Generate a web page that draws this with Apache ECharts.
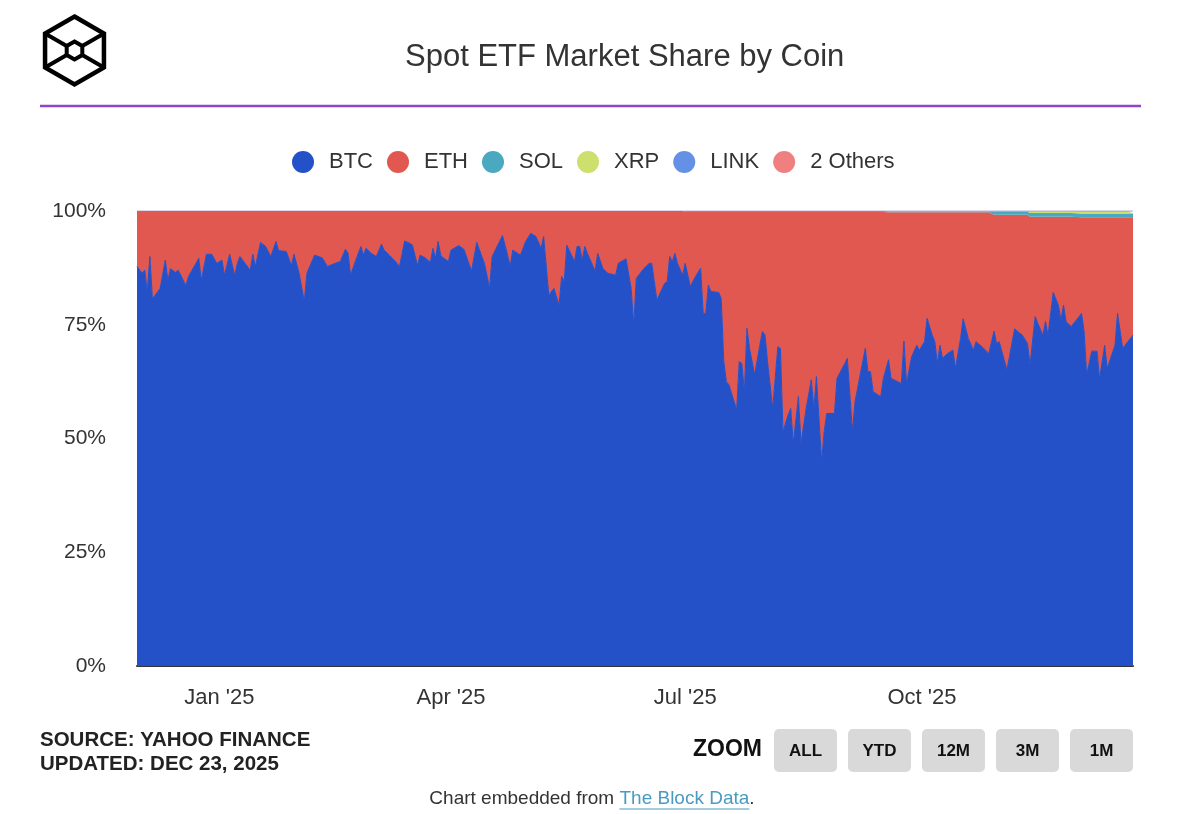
<!DOCTYPE html>
<html>
<head>
<meta charset="utf-8">
<script src="https://cdn.jsdelivr.net/npm/echarts@6/dist/echarts.min.js"></script>
<style>
html,body{margin:0;padding:0;background:#ffffff;}
#chart{width:1204px;height:814px;}
</style>
</head>
<body>
<div id="chart"></div>
<script>
// ---------------- DATA ----------------
const seriesNames = ["BTC", "ETH", "SOL", "XRP", "LINK", "2 Others"];

const dates = [
  '2024-11-30',
  '2024-12-02','2024-12-03','2024-12-04','2024-12-05','2024-12-06','2024-12-09','2024-12-11','2024-12-12','2024-12-13','2024-12-15','2024-12-16','2024-12-19','2024-12-20','2024-12-24','2024-12-25','2024-12-27','2024-12-29','2024-12-31',
  '2025-01-02','2025-01-03','2025-01-05','2025-01-07','2025-01-08','2025-01-09','2025-01-11','2025-01-13','2025-01-14','2025-01-15','2025-01-17','2025-01-19','2025-01-21','2025-01-23','2025-01-24','2025-01-27','2025-01-29','2025-01-30',
  '2025-02-01','2025-02-03','2025-02-04','2025-02-07','2025-02-10','2025-02-12','2025-02-15','2025-02-17','2025-02-19','2025-02-20','2025-02-21','2025-02-23','2025-02-25','2025-02-26','2025-02-27',
  '2025-03-01','2025-03-03','2025-03-05','2025-03-06','2025-03-08','2025-03-10','2025-03-12','2025-03-14','2025-03-16','2025-03-17','2025-03-19','2025-03-20','2025-03-22','2025-03-24','2025-03-25','2025-03-26','2025-03-27','2025-03-28','2025-03-29','2025-03-31',
  '2025-04-01','2025-04-04','2025-04-06','2025-04-09','2025-04-11','2025-04-13','2025-04-14','2025-04-16','2025-04-17','2025-04-21','2025-04-23','2025-04-24','2025-04-25','2025-04-28','2025-04-30',
  '2025-05-02','2025-05-04','2025-05-06','2025-05-07','2025-05-09','2025-05-11','2025-05-13','2025-05-14','2025-05-15','2025-05-16','2025-05-19','2025-05-20','2025-05-21','2025-05-22','2025-05-23','2025-05-24','2025-05-27','2025-05-28','2025-05-30',
  '2025-06-01','2025-06-04','2025-06-05','2025-06-08','2025-06-10','2025-06-11','2025-06-12','2025-06-15','2025-06-17','2025-06-18','2025-06-20','2025-06-23','2025-06-24','2025-06-25','2025-06-26','2025-06-27','2025-06-28','2025-06-30',
  '2025-07-01','2025-07-03','2025-07-05','2025-07-07','2025-07-08','2025-07-09','2025-07-10','2025-07-11','2025-07-14','2025-07-15','2025-07-16','2025-07-17','2025-07-18','2025-07-21','2025-07-22','2025-07-23','2025-07-24','2025-07-25','2025-07-26','2025-07-28','2025-07-30','2025-07-31',
  '2025-08-01','2025-08-02','2025-08-04','2025-08-06','2025-08-07','2025-08-08','2025-08-10','2025-08-11','2025-08-12','2025-08-14','2025-08-15','2025-08-17','2025-08-19','2025-08-20','2025-08-21','2025-08-23','2025-08-24','2025-08-25','2025-08-28','2025-08-29',
  '2025-09-02','2025-09-04','2025-09-05','2025-09-07','2025-09-09','2025-09-10','2025-09-11','2025-09-12','2025-09-15','2025-09-16','2025-09-18','2025-09-19','2025-09-23','2025-09-24','2025-09-25','2025-09-27','2025-09-29','2025-09-30',
  '2025-10-02','2025-10-03','2025-10-05','2025-10-06','2025-10-07','2025-10-08','2025-10-09','2025-10-11','2025-10-13','2025-10-14','2025-10-16','2025-10-17','2025-10-19','2025-10-21','2025-10-22','2025-10-25','2025-10-27','2025-10-29','2025-10-30','2025-10-31',
  '2025-11-03','2025-11-04','2025-11-06','2025-11-09','2025-11-11','2025-11-12','2025-11-14','2025-11-15','2025-11-17','2025-11-18','2025-11-19','2025-11-21','2025-11-23','2025-11-24','2025-11-25','2025-11-26','2025-11-28',
  '2025-12-02','2025-12-03','2025-12-04','2025-12-06','2025-12-08','2025-12-09','2025-12-11','2025-12-12','2025-12-15','2025-12-16','2025-12-18','2025-12-20','2025-12-22'
];

const btc = [
  87.8,
  86.3,87.0,82.3,90.0,80.7,83.0,89.2,84.8,87.3,86.5,87.0,83.6,85.6,89.6,84.8,90.5,90.5,88.5,
  89.2,85.9,90.5,85.8,88.5,90.0,88.5,87.0,90.5,87.8,93.1,92.2,90.0,93.3,91.3,91.1,88.0,90.5,
  86.3,80.1,86.3,90.3,89.7,87.8,88.5,88.9,91.6,90.7,85.9,89.2,92.2,90.3,91.8,
  90.7,90.0,92.7,91.4,90.3,89.2,87.8,93.4,92.9,92.5,88.0,90.3,89.7,88.7,91.8,89.6,93.3,90.3,89.7,88.9,
  91.4,92.4,91.6,86.8,93.1,90.0,88.5,83.0,90.0,94.6,90.3,87.8,91.4,90.3,93.3,
  95.1,94.4,91.8,94.4,81.5,83.0,79.3,85.6,84.5,92.5,88.9,92.2,92.2,89.2,92.2,90.7,86.8,90.7,87.4,
  86.3,85.9,88.5,89.5,83.0,74.9,85.2,87.4,88.5,88.5,80.4,84.1,84.5,90.0,88.9,90.7,88.5,85.9,
  88.5,83.4,85.6,87.4,77.5,77.5,83.7,82.3,82.1,80.8,66.9,62.5,61.8,56.3,66.9,66.5,60.3,74.2,69.8,64.0,70.5,73.5,
  72.8,66.9,56.6,70.2,69.8,51.5,55.2,56.6,48.9,59.2,48.9,56.6,62.9,56.6,63.6,44.9,51.5,55.5,55.5,63.2,
  67.6,51.5,58.1,64.0,69.8,64.7,64.7,60.3,59.2,63.2,67.3,63.2,62.1,71.4,62.1,68.0,70.5,69.4,
  71.3,76.4,72.7,71.3,66.5,70.5,67.6,68.7,69.4,65.4,72.0,76.3,72.0,69.4,71.3,69.8,68.7,73.6,70.9,71.3,
  65.1,68.0,74.1,72.7,70.9,66.2,76.8,75.3,72.7,75.7,72.7,82.1,79.3,76.0,79.3,75.7,74.6,
  77.5,73.5,64.0,69.2,69.2,63.1,70.5,65.4,70.5,77.5,69.8,71.3,72.7
];

const eth = [
  12.2,
  13.7,13.0,17.7,10.0,19.3,17.0,10.8,15.2,12.7,13.5,13.0,16.4,14.4,10.4,15.2,9.5,9.5,11.5,
  10.8,14.1,9.5,14.2,11.5,10.0,11.5,13.0,9.5,12.2,6.9,7.8,10.0,6.7,8.7,8.9,12.0,9.5,
  13.7,19.9,13.7,9.7,10.3,12.2,11.5,11.1,8.4,9.3,14.1,10.8,7.8,9.7,8.2,
  9.3,10.0,7.3,8.6,9.7,10.8,12.2,6.6,7.1,7.5,12.0,9.7,10.3,11.3,8.2,10.4,6.7,9.7,10.3,11.1,
  8.6,7.6,8.4,13.2,6.9,10.0,11.5,17.0,10.0,5.4,9.7,12.2,8.6,9.7,6.7,
  4.9,5.6,8.2,5.6,18.5,17.0,20.7,14.4,15.5,7.5,11.1,7.8,7.8,10.8,7.8,9.3,13.2,9.3,12.6,
  13.7,14.1,11.5,10.5,17.0,25.1,14.8,12.6,11.5,11.5,19.6,15.9,15.5,10.0,11.1,9.3,11.5,14.1,
  11.3,16.4,14.2,12.4,22.3,22.3,16.1,17.5,17.7,19.0,32.9,37.3,38.0,43.5,32.9,33.3,39.5,25.6,30.0,35.8,29.3,26.3,
  27.0,32.9,43.2,29.6,30.0,48.3,44.6,43.2,50.9,40.6,50.9,43.2,36.9,43.2,36.2,54.9,48.3,44.3,44.3,36.6,
  32.2,48.3,41.7,35.8,30.0,35.1,35.1,39.5,40.6,36.6,32.4,36.5,37.6,28.3,37.6,31.7,29.2,30.3,
  28.4,23.3,27.0,28.4,33.2,29.2,32.1,31.0,30.3,34.3,27.7,23.4,27.7,30.3,28.4,29.9,31.0,25.6,28.3,27.9,
  34.1,31.2,25.1,26.5,28.3,32.55,21.95,23.45,26.05,23.05,26.05,16.65,19.45,22.75,19.45,23.05,24.15,
  21.15,25.15,34.65,29.45,29.45,35.55,28.15,33.25,28.15,21.15,28.85,27.35,25.95
];

const sol = [
  0,
  0,0,0,0,0, 0,0,0,0,0, 0,0,0,0,0, 0,0,0,
  0,0,0,0,0, 0,0,0,0,0, 0,0,0,0,0, 0,0,0,
  0,0,0,0,0, 0,0,0,0,0, 0,0,0,0,0,
  0,0,0,0,0, 0,0,0,0,0, 0,0,0,0,0, 0,0,0,0,0,
  0,0,0,0,0, 0,0,0,0,0, 0,0,0,0,0,
  0,0,0,0,0, 0,0,0,0,0, 0,0,0,0,0, 0,0,0,0,
  0,0,0,0,0, 0,0,0,0,0, 0,0,0,0,0, 0,0,0,
  0.2,0.2,0.2,0.2,0.2, 0.2,0.2,0.2,0.2,0.2, 0.2,0.2,0.2,0.2,0.2, 0.2,0.2,0.2,0.2,0.2, 0.2,0.2,
  0.2,0.2,0.2,0.2,0.2, 0.2,0.2,0.2,0.2,0.2, 0.2,0.2,0.2,0.2,0.2, 0.2,0.2,0.2,0.2,0.2,
  0.2,0.2,0.2,0.2,0.2, 0.2,0.2,0.2,0.2,0.2, 0.2,0.2,0.2,0.2,0.2, 0.2,0.2,0.2,
  0.2,0.2,0.2,0.2,0.2, 0.2,0.2,0.2,0.2,0.2, 0.2,0.2,0.2,0.2,0.2, 0.2,0.2,0.7,0.7,0.7,
  0.7,0.7,0.7,0.7,0.7, 0.8,0.8,0.8,0.8,0.8, 0.8,0.8,0.8,0.8,0.8, 0.8,0.8,
  0.8,0.8,0.8,0.8,0.8, 0.8,0.8,0.8,0.8,0.8, 0.8,0.8,0.8
];

const xrp = [
  0,
  0,0,0,0,0, 0,0,0,0,0, 0,0,0,0,0, 0,0,0,
  0,0,0,0,0, 0,0,0,0,0, 0,0,0,0,0, 0,0,0,
  0,0,0,0,0, 0,0,0,0,0, 0,0,0,0,0,
  0,0,0,0,0, 0,0,0,0,0, 0,0,0,0,0, 0,0,0,0,0,
  0,0,0,0,0, 0,0,0,0,0, 0,0,0,0,0,
  0,0,0,0,0, 0,0,0,0,0, 0,0,0,0,0, 0,0,0,0,
  0,0,0,0,0, 0,0,0,0,0, 0,0,0,0,0, 0,0,0,
  0,0,0,0,0, 0,0,0,0,0, 0,0,0,0,0, 0,0,0,0,0, 0,0,
  0,0,0,0,0, 0,0,0,0,0, 0,0,0,0,0, 0,0,0,0,0,
  0,0,0,0,0, 0,0,0,0,0, 0,0,0,0,0, 0,0,0,
  0,0,0,0,0, 0,0,0,0,0, 0,0,0,0,0, 0,0,0,0,0,
  0,0,0,0,0, 0.35,0.35,0.35,0.35,0.35, 0.35,0.35,0.35,0.35,0.35, 0.35,0.35,
  0.4,0.4,0.4,0.4,0.4, 0.4,0.4,0.4,0.4,0.4, 0.4,0.4,0.4
];

const link = [
  0,
  0,0,0,0,0, 0,0,0,0,0, 0,0,0,0,0, 0,0,0,
  0,0,0,0,0, 0,0,0,0,0, 0,0,0,0,0, 0,0,0,
  0,0,0,0,0, 0,0,0,0,0, 0,0,0,0,0,
  0,0,0,0,0, 0,0,0,0,0, 0,0,0,0,0, 0,0,0,0,0,
  0,0,0,0,0, 0,0,0,0,0, 0,0,0,0,0,
  0,0,0,0,0, 0,0,0,0,0, 0,0,0,0,0, 0,0,0,0,
  0,0,0,0,0, 0,0,0,0,0, 0,0,0,0,0, 0,0,0,
  0,0,0,0,0, 0,0,0,0,0, 0,0,0,0,0, 0,0,0,0,0, 0,0,
  0,0,0,0,0, 0,0,0,0,0, 0,0,0,0,0, 0,0,0,0,0,
  0,0,0,0,0, 0,0,0,0,0, 0,0,0,0,0, 0,0,0,
  0,0,0,0,0, 0,0,0,0,0, 0,0,0,0,0, 0,0,0,0,0,
  0,0,0,0,0, 0,0,0,0,0, 0,0,0,0,0, 0,0,
  0.05,0.05,0.05,0.05,0.05, 0.05,0.05,0.05,0.05,0.05, 0.05,0.05,0.05
];

const others = [
  0,
  0,0,0,0,0, 0,0,0,0,0, 0,0,0,0,0, 0,0,0,
  0,0,0,0,0, 0,0,0,0,0, 0,0,0,0,0, 0,0,0,
  0,0,0,0,0, 0,0,0,0,0, 0,0,0,0,0,
  0,0,0,0,0, 0,0,0,0,0, 0,0,0,0,0, 0,0,0,0,0,
  0,0,0,0,0, 0,0,0,0,0, 0,0,0,0,0,
  0,0,0,0,0, 0,0,0,0,0, 0,0,0,0,0, 0,0,0,0,
  0,0,0,0,0, 0,0,0,0,0, 0,0,0,0,0, 0,0,0,
  0,0,0,0,0, 0,0,0,0,0, 0,0,0,0,0, 0,0,0,0,0, 0,0,
  0,0,0,0,0, 0,0,0,0,0, 0,0,0,0,0, 0,0,0,0,0,
  0,0,0,0,0, 0,0,0,0,0, 0.1,0.1,0.1,0.1,0.1, 0.1,0.1,0.1,
  0.1,0.1,0.1,0.1,0.1, 0.1,0.1,0.1,0.1,0.1, 0.1,0.1,0.1,0.1,0.1, 0.1,0.1,0.1,0.1,0.1,
  0.1,0.1,0.1,0.1,0.1, 0.1,0.1,0.1,0.1,0.1, 0.1,0.1,0.1,0.1,0.1, 0.1,0.1,
  0.1,0.1,0.1,0.1,0.1, 0.1,0.1,0.1,0.1,0.1, 0.1,0.1,0.1
];

const xTickDates = ['2025-01-01', '2025-04-01', '2025-07-01', '2025-10-01'];
const xTickLabels = ["Jan '25", "Apr '25", "Jul '25", "Oct '25"];
const yTickValues = [0, 25, 50, 75, 100];
const zoomButtons = ["ALL", "YTD", "12M", "3M", "1M"];

// ---------------- CHART ----------------
const FONT = '"Liberation Sans", Arial, Helvetica, sans-serif';
const colors = ['#2450c8', '#e0584f', '#4aa8c0', '#cddf6c', '#6491e6', '#f08080'];

function ts(d) {
  const p = d.split('-');
  return Date.UTC(+p[0], +p[1] - 1, +p[2]);
}
const tickTs = xTickDates.map(ts);
const valueArrays = [btc, eth, sol, xrp, link, others];
const xMin = ts(dates[0]);
const xMax = ts(dates[dates.length - 1]);

const chart = echarts.init(document.getElementById('chart'), null, { renderer: 'canvas' });

const series = valueArrays.map((arr, k) => ({
  name: seriesNames[k],
  type: 'line',
  stack: 'share',
  xAxisIndex: 0,
  symbol: 'none',
  showSymbol: false,
  smooth: false,
  color: colors[k],
  lineStyle: { width: k === 0 ? 1 : 0, color: colors[k] },
  areaStyle: { color: colors[k], opacity: 1 },
  emphasis: { disabled: true },
  z: k === 0 ? 3 : 2,
  data: dates.map((d, i) => [ts(d), arr[i]])
}));

// graphics: logo, divider, footer items
const graphics = [];
const cx = 74.5, cy = 50.5, R = 34, r = 9;
function hexPts(cx0, cy0, rad) {
  const pts = [];
  for (let k = 0; k < 6; k++) {
    const a = (-90 + 60 * k) * Math.PI / 180;
    pts.push([cx0 + rad * Math.cos(a), cy0 + rad * Math.sin(a)]);
  }
  return pts;
}
const outer = hexPts(cx, cy, R);
const inner = hexPts(cx, cy, r);
graphics.push({ type: 'polygon', shape: { points: outer }, style: { fill: 'none', stroke: '#000', lineWidth: 4.5, lineJoin: 'miter' } });
graphics.push({ type: 'polygon', shape: { points: inner }, style: { fill: 'none', stroke: '#000', lineWidth: 4, lineJoin: 'miter' } });
[1, 2, 4, 5].forEach(k => {
  graphics.push({ type: 'line', shape: { x1: outer[k][0], y1: outer[k][1], x2: inner[k][0], y2: inner[k][1] }, style: { stroke: '#000', lineWidth: 4 } });
});
graphics.push({ type: 'line', shape: { x1: 40, y1: 106, x2: 1141, y2: 106 }, style: { stroke: '#8e44c8', lineWidth: 2.5 } });
graphics.push({ type: 'text', style: { text: 'SOURCE: YAHOO FINANCE', x: 40, y: 740, font: 'bold 20.5px ' + FONT, fill: '#222', textAlign: 'left', textVerticalAlign: 'middle' } });
graphics.push({ type: 'text', style: { text: 'UPDATED: DEC 23, 2025', x: 40, y: 764, font: 'bold 20.5px ' + FONT, fill: '#222', textAlign: 'left', textVerticalAlign: 'middle' } });
graphics.push({ type: 'text', style: { text: 'ZOOM', x: 762, y: 750, font: 'bold 23px ' + FONT, fill: '#111', textAlign: 'right', textVerticalAlign: 'middle' } });
zoomButtons.forEach((lab, k) => {
  const bx = 774 + k * 74;
  graphics.push({ type: 'rect', shape: { x: bx, y: 729, width: 63, height: 43, r: 5 }, style: { fill: '#d9d9d9' } });
  graphics.push({ type: 'text', style: { text: lab, x: bx + 31.5, y: 751, font: 'bold 17px ' + FONT, fill: '#111', textAlign: 'center', textVerticalAlign: 'middle' } });
});
const FOOT = '19px ' + FONT;
const cnv = document.createElement('canvas').getContext('2d');
cnv.font = FOOT;
const fA = 'Chart embedded from ', fB = 'The Block Data', fC = '.';
const wA = cnv.measureText(fA).width, wB = cnv.measureText(fB).width, wC = cnv.measureText(fC).width;
const fx0 = 592 - (wA + wB + wC) / 2;
graphics.push({ type: 'text', style: { text: fA, x: fx0, y: 799, font: FOOT, fill: '#333', textAlign: 'left', textVerticalAlign: 'middle' } });
graphics.push({ type: 'text', style: { text: fB, x: fx0 + wA, y: 799, font: FOOT, fill: '#4a9bc1', textAlign: 'left', textVerticalAlign: 'middle' } });
graphics.push({ type: 'text', style: { text: fC, x: fx0 + wA + wB, y: 799, font: FOOT, fill: '#333', textAlign: 'left', textVerticalAlign: 'middle' } });
graphics.push({ type: 'line', shape: { x1: fx0 + wA, y1: 809, x2: fx0 + wA + wB, y2: 809 }, style: { stroke: '#4a9bc1', lineWidth: 1 } });

const bad = valueArrays.map(a => a.length).filter(n => n !== dates.length);
if (bad.length) {
  graphics.push({ type: 'text', style: { text: 'LEN ' + dates.length + ' / ' + valueArrays.map(a => a.length).join(','), x: 200, y: 130, font: 'bold 16px ' + FONT, fill: 'red' } });
}

chart.setOption({
  animation: false,
  backgroundColor: '#ffffff',
  textStyle: { fontFamily: FONT },
  title: {
    text: 'Spot ETF Market Share by Coin',
    left: 400, top: 37,
    textStyle: { fontSize: 31, fontWeight: 'normal', color: '#333', fontFamily: FONT }
  },
  legend: {
    data: seriesNames,
    left: 287, top: 146,
    icon: 'circle',
    itemWidth: 22, itemHeight: 22, itemGap: 14,
    selectedMode: false,
    textStyle: { fontSize: 22, color: '#333', fontFamily: FONT, padding: [0, 0, 0, 10] }
  },
  grid: { left: 137, right: 71, top: 211, bottom: 148, containLabel: false },
  xAxis: [
    {
      type: 'time',
      min: xMin, max: xMax,
      position: 'bottom',
      axisLine: { show: true, lineStyle: { color: '#333', width: 2 } },
      axisTick: { show: false },
      splitLine: { show: false },
      axisLabel: { show: false }
    },
    {
      type: 'value',
      min: xMin, max: xMax,
      position: 'bottom',
      offset: 0,
      axisLine: { show: false },
      axisTick: { show: false },
      splitLine: { show: false },
      axisLabel: {
        customValues: tickTs,
        margin: 21,
        fontSize: 22,
        color: '#333',
        fontFamily: FONT,
        formatter: function (v) {
          const i = tickTs.findIndex(t => Math.abs(t - v) < 43200000);
          return i >= 0 ? xTickLabels[i] : '';
        }
      }
    }
  ],
  yAxis: {
    type: 'value',
    min: yTickValues[0], max: yTickValues[yTickValues.length - 1], interval: 25,
    axisLine: { show: false },
    axisTick: { show: false },
    splitLine: { show: true, lineStyle: { color: '#dcd8ec', width: 2 } },
    axisLabel: { formatter: '{value}%', fontSize: 21, color: '#333', margin: 31, fontFamily: FONT }
  },
  series: series,
  graphic: { elements: graphics }
});
</script>
</body>
</html>
